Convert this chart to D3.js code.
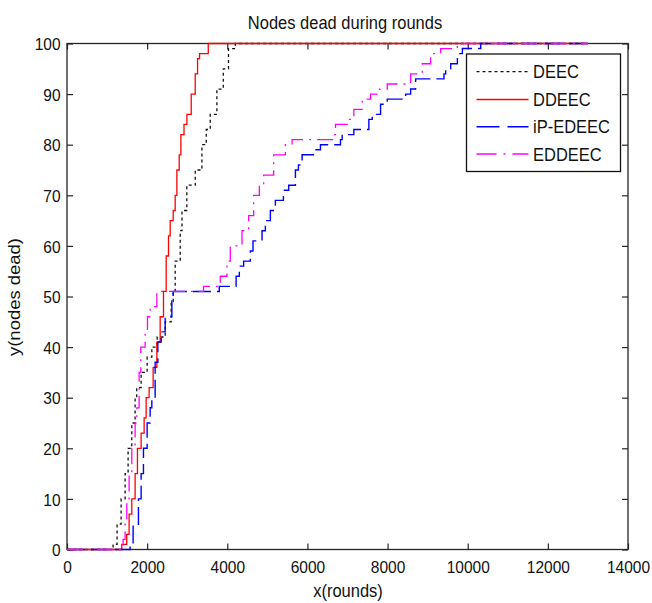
<!DOCTYPE html>
<html>
<head>
<meta charset="utf-8">
<script src="https://cdn.jsdelivr.net/npm/d3@7"></script>
<style>
  html, body { margin: 0; padding: 0; background: #fff; }
  svg { display: block; }
  text { font-family: "Liberation Sans", Arial, sans-serif; fill: #111; }
</style>
</head>
<body>
<svg id="chart" width="652" height="603"></svg>
<script>
// ---------------- DATA ----------------
const seriesNames = ["DEEC", "DDEEC", "iP-EDEEC", "EDDEEC"];

const roundsDEEC = [0, 1150, 1250, 1350, 1450, 1525, 1617, 1700, 1740, 1850, 2000, 2117, 2250, 2450, 2600, 2650, 2700, 2825, 2870, 2990, 3200, 3367, 3475, 3575, 3740, 3900, 4030, 4200, 13000];
const deadDEEC   = [0,    1,    5,   10,   15,   20,   25,   30,   32,   35,   38,   40,   42,   45,   49,   51,   57,   63,   67,   72,   75,   80,   83,   86,   91,   95,   99,  100,   100];

const roundsDDEEC = [0, 1367, 1490, 1550, 1617, 1700, 1758, 1850, 1925, 1975, 2050, 2150, 2242, 2325, 2408, 2475, 2533, 2575, 2650, 2700, 2742, 2800, 2842, 2920, 2992, 3100, 3200, 3258, 3308, 3525, 13000];
const deadDDEEC   = [0,    1,    3,    7,   10,   15,   20,   23,   26,   30,   32,   36,   41,   46,   51,   58,   62,   65,   67,   70,   75,   78,   82,   84,   86,   90,   94,   97,   98,  100,   100];

const roundsIPEDEEC = [0, 1575, 1650, 1783, 1850, 1908, 2000, 2075, 2117, 2200, 2267, 2350, 2450, 2617, 2650, 3800, 4220, 4300, 4408, 4575, 4642, 4867, 4950, 5075, 5200, 5400, 5533, 5700, 5775, 5867, 6150, 6325, 6825, 6867, 7158, 7533, 7617, 7825, 7992, 8450, 8575, 8700, 9408, 9450, 9575, 9742, 9867, 10325, 13000];
const deadIPEDEEC   = [0,    1,    5,   10,   15,   20,   25,   28,   30,   37,   41,   43,   46,   50,   51,   52,   54,   56,   57,   59,   61,   63,   65,   67,   69,   71,   72,   75,   76,   78,   79,   80,   81,   82,   83,   85,   86,   88,   89,   90,   91,   93,   94,   95,   96,   98,   99,   100,   100];

const roundsEDDEEC = [0, 1400, 1450, 1492, 1550, 1617, 1700, 1742, 1800, 1842, 1950, 2008, 2075, 2242, 3408, 3825, 3992, 4075, 4367, 4533, 4658, 4800, 4908, 5158, 5450, 5617, 6658, 6700, 6992, 7158, 7367, 7575, 7800, 7992, 8575, 8867, 9075, 9325, 9742, 13000];
const deadEDDEEC   = [0,    2,    5,   10,   15,   20,   25,   28,   35,   40,   43,   46,   48,   51,   52,   54,   57,   60,   63,   66,   70,   72,   74,   78,   80,   81,   82,   84,   85,   87,   89,   90,   91,   92,   94,   96,   98,   99,  100,   100];

const xTicks = [0, 2000, 4000, 6000, 8000, 10000, 12000, 14000];
const yTicks = [0, 10, 20, 30, 40, 50, 60, 70, 80, 90, 100];

const titleText = "Nodes dead during rounds";
const xLabel = "x(rounds)";
const yLabel = "y(nodes dead)";

// ---------------- CHART ----------------
const svg = d3.select("#chart");
const X0 = 67, X1 = 628, Y0 = 549.5, Y1 = 43.5;
const SY = 1.12; // vertical stretch of text in reference

const x = d3.scaleLinear().domain([0, 14000]).range([X0, X1]);
const y = d3.scaleLinear().domain([0, 100]).range([Y0, Y1]);

const axisColor = "#262626";

// frame
svg.append("rect").attr("x", X0).attr("y", Y1).attr("width", X1 - X0).attr("height", Y0 - Y1)
  .attr("fill", "#fff").attr("stroke", axisColor).attr("stroke-width", 1.3);

function styleAxis(g) {
  g.select(".domain").remove();
  g.selectAll(".tick line").attr("stroke", axisColor).attr("stroke-width", 1.2);
}

// bottom
const gB = svg.append("g").attr("transform", `translate(0,${Y0})`)
  .call(d3.axisBottom(x).tickValues(xTicks).tickSizeInner(-6).tickSizeOuter(0).tickFormat(d3.format("d")));
styleAxis(gB);
gB.selectAll(".tick text").attr("y", null).attr("dy", null)
  .attr("transform", `translate(0,23.5) scale(1,${SY})`)
  .attr("font-size", "15.5px").attr("text-anchor", "middle").attr("fill", "#111");

// left
const gL = svg.append("g").attr("transform", `translate(${X0},0)`)
  .call(d3.axisLeft(y).tickValues(yTicks).tickSizeInner(-6).tickSizeOuter(0).tickFormat(d3.format("d")));
styleAxis(gL);
gL.selectAll(".tick text").attr("x", null).attr("dy", null)
  .attr("transform", `translate(-6.5,6.2) scale(1,${SY})`)
  .attr("font-size", "15.5px").attr("text-anchor", "end").attr("fill", "#111");

// top & right (ticks only)
const gT = svg.append("g").attr("transform", `translate(0,${Y1})`)
  .call(d3.axisTop(x).tickValues(xTicks).tickSizeInner(-6).tickSizeOuter(0).tickFormat(""));
styleAxis(gT);
const gR = svg.append("g").attr("transform", `translate(${X1},0)`)
  .call(d3.axisRight(y).tickValues(yTicks).tickSizeInner(-6).tickSizeOuter(0).tickFormat(""));
styleAxis(gR);

// series
const series = [
  { name: seriesNames[0], xs: roundsDEEC, ys: deadDEEC, color: "#111111", dash: "3,3", width: 1.3 },
  { name: seriesNames[1], xs: roundsDDEEC, ys: deadDDEEC, color: "#ff0000", dash: null, width: 1.3 },
  { name: seriesNames[2], xs: roundsIPEDEEC, ys: deadIPEDEEC, color: "#0000ff", dash: "18,6", width: 1.4 },
  { name: seriesNames[3], xs: roundsEDDEEC, ys: deadEDDEEC, color: "#ff00ff", dash: "16,6,2,6", width: 1.3 }
];

const line = d3.line().x(d => x(d[0])).y(d => y(d[1])).curve(d3.curveStepAfter);

series.forEach(s => {
  const pts = s.xs.map((v, i) => [v, s.ys[i]]);
  svg.append("path").datum(pts)
    .attr("d", line)
    .attr("fill", "none")
    .attr("stroke", s.color)
    .attr("stroke-width", s.width)
    .attr("stroke-dasharray", s.dash);
});

// title and labels
svg.append("text").attr("text-anchor", "middle").attr("font-size", "16.5px")
  .attr("transform", `translate(345,29) scale(1,${SY})`).text(titleText);
svg.append("text").attr("text-anchor", "middle").attr("font-size", "16.5px")
  .attr("transform", `translate(348,597) scale(1,${SY})`).text(xLabel);
svg.append("text").attr("text-anchor", "middle").attr("font-size", "16.5px")
  .attr("transform", `translate(20,297) rotate(-90) scale(${SY},1)`).text(yLabel);

// legend
const LX = 466.5, LY = 54, LW = 154, LH = 117.5;
const lg = svg.append("g");
lg.append("rect").attr("x", LX).attr("y", LY).attr("width", LW).attr("height", LH)
  .attr("fill", "#fff").attr("stroke", "#111").attr("stroke-width", 1.3);
const rowY = [71.7, 99.5, 126.7, 154];
series.forEach((s, i) => {
  lg.append("line").attr("x1", 476.5).attr("x2", 528.5).attr("y1", rowY[i]).attr("y2", rowY[i])
    .attr("stroke", s.color).attr("stroke-width", s.width)
    .attr("stroke-dasharray", i === 2 ? "23,8" : (i === 3 ? "20,7,2,7" : s.dash));
  lg.append("text").attr("font-size", "16.5px").attr("text-anchor", "start")
    .attr("transform", `translate(533,${rowY[i] + 6.6}) scale(1,${SY})`).text(s.name);
});
</script>
</body>
</html>
